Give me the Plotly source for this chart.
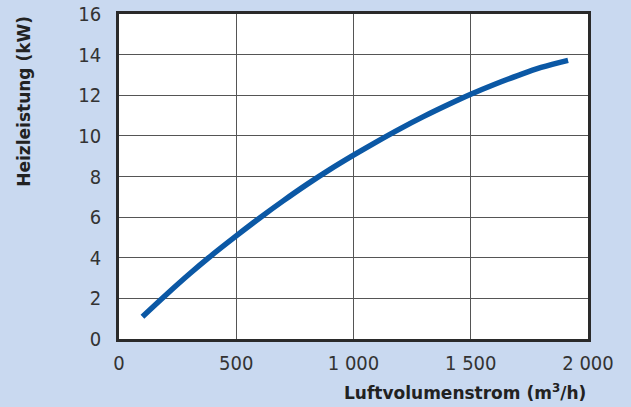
import plotly.graph_objects as go

airflow = [100, 200, 300, 400, 500, 600, 700, 800, 900, 1000, 1100, 1200, 1300, 1400, 1500, 1600, 1700, 1800, 1915]
power = [1.1, 2.17, 3.2, 4.17, 5.08, 5.96, 6.8, 7.6, 8.35, 9.05, 9.72, 10.36, 10.96, 11.52, 12.05, 12.53, 12.97, 13.37, 13.72]

x_ticks = [0, 500, 1000, 1500, 2000]
x_ticktext = ["0", "500", "1 000", "1 500", "2 000"]
y_ticks = [0, 2, 4, 6, 8, 10, 12, 14, 16]

bg = "#c9d9f0"
tickfont = dict(family="DejaVu Sans Condensed, DejaVu Sans", size=20, color="#333333")
titlefont = dict(family="DejaVu Sans", size=17, color="#222222")

fig = go.Figure()
fig.add_trace(go.Scatter(
    x=airflow, y=power, mode="lines",
    line=dict(color="#0b58a5", width=5.5, shape="spline"),
    hoverinfo="skip", showlegend=False,
))

fig.update_layout(
    width=631, height=407,
    paper_bgcolor=bg, plot_bgcolor="white",
    margin=dict(l=119, r=43, t=14, b=68, autoexpand=False),
    xaxis=dict(
        range=[0, 2000], tickvals=x_ticks, ticktext=x_ticktext, automargin=False,
        showgrid=True, gridcolor="#555555", gridwidth=1,
        showline=True, linecolor="#2a2a2a", linewidth=2.5, mirror=True,
        ticks="", ticklabelstandoff=4, tickfont=tickfont, zeroline=False,
    ),
    yaxis=dict(
        range=[0, 16], tickvals=y_ticks, automargin=False,
        showgrid=True, gridcolor="#555555", gridwidth=1,
        showline=True, linecolor="#2a2a2a", linewidth=2.5, mirror=True,
        ticks="", ticklabelstandoff=11, tickfont=tickfont, zeroline=False,
    ),
    annotations=[
        dict(text="<b>Luftvolumenstrom (m<sup>3</sup>/h)</b>", xref="paper", yref="paper",
             x=1.0, y=0, yshift=-53, xanchor="right", yanchor="middle", showarrow=False,
             font=titlefont),
        dict(text="<b>Heizleistung (kW)</b>", xref="paper", yref="paper",
             x=0, xshift=-95, y=0.73, xanchor="center", yanchor="middle", textangle=-90,
             showarrow=False, font=titlefont),
    ],
)

fig.write_html("out.html", config={"displayModeBar": False},
               post_script="document.body.style.margin='0px';document.body.style.overflow='hidden';")
